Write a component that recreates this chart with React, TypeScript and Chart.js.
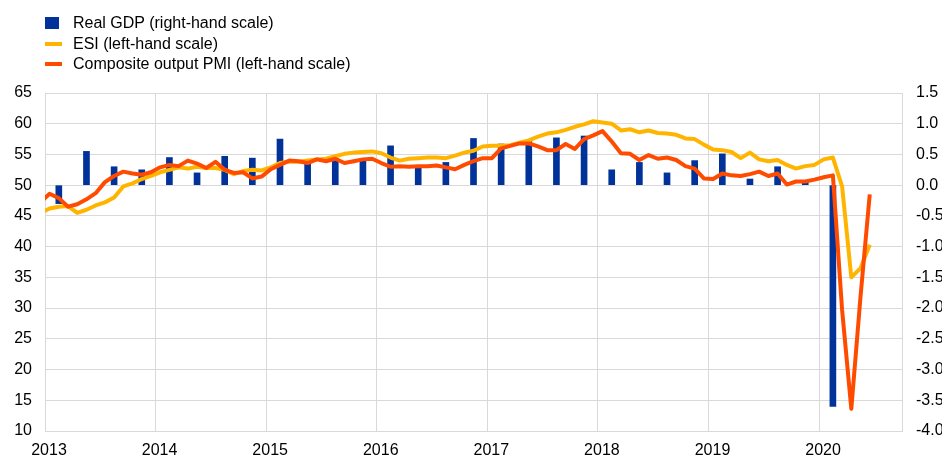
import React, { useEffect, useRef } from 'react';
import { Chart, registerables } from 'chart.js';

Chart.register(...registerables);

// Year tick labels (x axis = months since Jan 2013)
const yearLabels = ['2013', '2014', '2015', '2016', '2017', '2018', '2019', '2020'];

// ESI (left-hand scale), monthly Dec 2012 .. Jun 2020
const esiValues = [
  45.5,
  46.2, 46.5, 46.6, 45.5, 46.0, 46.7, 47.2, 48.0, 49.8, 50.3, 51.0, 51.5,
  52.1, 52.5, 52.9, 52.7, 53.0, 52.8, 52.8, 52.5, 51.8, 52.3, 52.5, 52.4,
  52.9, 53.6, 53.8, 53.8, 54.0, 54.2, 54.3, 54.7, 55.1, 55.3, 55.4, 55.5,
  55.2, 54.5, 54.0, 54.3, 54.4, 54.5, 54.5, 54.4, 54.8, 55.3, 55.6, 56.3,
  56.4, 56.4, 56.5, 56.9, 57.3, 57.9, 58.4, 58.6, 59.0, 59.5, 59.9, 60.4,
  60.2, 60.0, 58.9, 59.1, 58.6, 58.9, 58.5, 58.4, 58.2, 57.6, 57.5, 56.6,
  55.8, 55.7, 55.4, 54.4, 55.3, 54.2, 53.9, 54.1, 53.3, 52.7, 53.1, 53.3,
  54.2, 54.5, 49.8, 35.0, 36.5, 40.3,
];

// Composite output PMI (left-hand scale), monthly Dec 2012 .. Jun 2020
const pmiValues = [
  47.2,
  48.6, 47.9, 46.5, 46.9, 47.7, 48.7, 50.5, 51.5, 52.2, 51.9, 51.7, 52.1,
  52.9, 53.3, 53.1, 54.0, 53.5, 52.8, 53.8, 52.5, 52.0, 52.1, 51.1, 51.4,
  52.6, 53.3, 54.0, 53.9, 53.6, 54.2, 53.9, 54.3, 53.6, 53.9, 54.2, 54.3,
  53.6, 53.0, 53.1, 53.0, 53.1, 53.1, 53.2, 52.9, 52.6, 53.3, 53.9, 54.4,
  54.4, 56.0, 56.4, 56.8, 56.8, 56.3, 55.7, 55.7, 56.7, 55.9, 57.5, 58.1,
  58.8, 57.1, 55.2, 55.1, 54.1, 54.9, 54.3, 54.5, 54.1, 53.1, 52.7, 51.1,
  51.0, 51.9, 51.6, 51.5, 51.8, 52.2, 51.5, 51.9, 50.1, 50.6, 50.6, 50.9,
  51.3, 51.6, 29.7, 13.6, 31.9, 48.5,
];

// Real GDP, quarter-on-quarter % (right-hand scale), Q1 2013 .. Q1 2020
const gdpValues = [
  -0.3, 0.55, 0.3, 0.25,
  0.45, 0.2, 0.47, 0.44,
  0.75, 0.37, 0.43, 0.42,
  0.64, 0.3, 0.37, 0.76,
  0.67, 0.71, 0.77, 0.8,
  0.25, 0.37, 0.2, 0.4,
  0.51, 0.1, 0.3, 0.05,
  -3.6,
];

const legendItems = [
  { label: 'Real GDP (right-hand scale)', color: '#003299', kind: 'box' },
  { label: 'ESI (left-hand scale)', color: '#FFB400', kind: 'line' },
  { label: 'Composite output PMI (left-hand scale)', color: '#FF4B00', kind: 'line' },
];

const FONT = 'Arial, "Liberation Sans", sans-serif';
const GRID = '#d9d9d9';
const FS = 16;

export default function App() {
  const canvasRef = useRef<HTMLCanvasElement | null>(null);

  useEffect(() => {
    document.body.style.margin = '0';
    const canvas = canvasRef.current;
    if (!canvas) return;

    // monthly series: index 0 = Dec 2012, plotted at mid-month
    const monthly = (vals: number[]) => vals.map((v, i) => ({ x: i - 0.5, y: v }));
    const quarterly = gdpValues.map((v, q) => ({ x: q * 3 + 1.5, y: v }));

    const chart = new Chart(canvas, {
      type: 'line',
      data: {
        datasets: [
          {
            type: 'line',
            label: 'Composite output PMI (left-hand scale)',
            data: monthly(pmiValues),
            borderColor: '#FF4B00',
            backgroundColor: '#FF4B00',
            borderWidth: 4,
            pointRadius: 0,
            tension: 0,
            borderJoinStyle: 'round',
            yAxisID: 'y',
            clip: 0,
            order: 0,
          },
          {
            type: 'line',
            label: 'ESI (left-hand scale)',
            data: monthly(esiValues),
            borderColor: '#FFB400',
            backgroundColor: '#FFB400',
            borderWidth: 4,
            pointRadius: 0,
            tension: 0,
            borderJoinStyle: 'round',
            yAxisID: 'y',
            clip: 0,
            order: 1,
          },
          {
            type: 'bar',
            label: 'Real GDP (right-hand scale)',
            data: quarterly,
            backgroundColor: '#003299',
            borderWidth: 0,
            barThickness: 6,
            yAxisID: 'y1',
            order: 2,
          } as any,
        ],
      },
      options: {
        responsive: false,
        animation: false,
        devicePixelRatio: 1,
        layout: { padding: { top: 93, left: 0, right: 0, bottom: 0 } },
        plugins: {
          legend: { display: false },
          tooltip: { enabled: false },
        },
        scales: {
          x: {
            type: 'linear',
            min: 0,
            max: 93,
            offset: false,
            grid: { color: GRID, drawTicks: false, lineWidth: 1, offset: false },
            border: { color: GRID },
            ticks: {
              stepSize: 12,
              includeBounds: false,
              autoSkip: false,
              maxRotation: 0,
              padding: 10,
              labelOffset: 4,
              color: '#000',
              font: { family: FONT, size: FS },
              callback: (v: any) => {
                const n = Number(v);
                if (n % 12 !== 0) return '';
                return yearLabels[n / 12] ?? '';
              },
            },
            afterFit: (s: any) => { s.height = 27; },
          },
          y: {
            type: 'linear',
            position: 'left',
            min: 10,
            max: 65,
            grid: { color: GRID, drawTicks: false },
            border: { color: GRID },
            ticks: {
              stepSize: 5,
              padding: 13,
              color: '#000',
              font: { family: FONT, size: FS },
            },
            afterFit: (s: any) => { s.width = 45; },
          },
          y1: {
            type: 'linear',
            position: 'right',
            min: -4,
            max: 1.5,
            grid: { drawOnChartArea: false, drawTicks: false, color: GRID },
            border: { color: GRID },
            ticks: {
              stepSize: 0.5,
              padding: 14,
              color: '#000',
              font: { family: FONT, size: FS },
              callback: (v: any) => Number(v).toFixed(1),
            },
            afterFit: (s: any) => { s.width = 40; },
          },
        },
      },
    });

    return () => chart.destroy();
  }, []);

  return (
    <div style={{ position: 'fixed', left: 0, top: 0, width: 942, height: 458, background: '#fff' }}>
      <canvas ref={canvasRef} width={942} height={458} style={{ position: 'absolute', left: 0, top: 0, width: 942, height: 458 }} />
      <div style={{ position: 'absolute', left: 45, top: 13, fontFamily: FONT, fontSize: FS, color: '#000' }}>
        {legendItems.map((it, i) => (
          <div key={i} style={{ display: 'flex', alignItems: 'center', height: 20.5, whiteSpace: 'nowrap' }}>
            <span style={{ width: 28, display: 'inline-flex', alignItems: 'center' }}>
              {it.kind === 'box' ? (
                <span style={{ display: 'inline-block', width: 14, height: 12, background: it.color }} />
              ) : (
                <span style={{ display: 'inline-block', width: 17, height: 4, background: it.color }} />
              )}
            </span>
            <span>{it.label}</span>
          </div>
        ))}
      </div>
    </div>
  );
}
